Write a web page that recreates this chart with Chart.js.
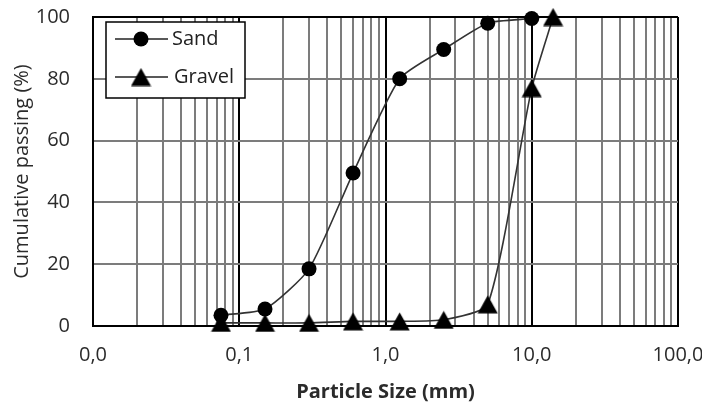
<!DOCTYPE html>
<html>
<head>
<meta charset="utf-8">
<script src="https://cdn.jsdelivr.net/npm/chart.js@4"></script>
<style>
    html, body { margin: 0; padding: 0; background: #fff; }
    #wrap { width: 702px; height: 405px; position: relative; }
</style>
</head>
<body>
<div id="wrap"><canvas id="gradingChart"></canvas></div>
<script>
// sieve sizes (mm) and cumulative passing (%)
const sandSizes = [0.075, 0.15, 0.3, 0.6, 1.25, 2.5, 5, 10];
const sandPassing = [3.5, 5.5, 18.5, 49.5, 80, 89.5, 98, 99.5];
const gravelSizes = [0.075, 0.15, 0.3, 0.6, 1.25, 2.5, 5, 10, 14];
const gravelPassing = [1, 1, 1, 1.5, 1.5, 2, 7, 77, 100];

const seriesNames = ['Sand', 'Gravel'];
const decades = [0.01, 0.1, 1, 10, 100];
const yTicks = [0, 20, 40, 60, 80, 100];

const FONT = "'Open Sans', sans-serif";
const NO_TICK = 'rgba(0,0,0,0)';
const MINOR = '#7c7c7c';

// excel style triangle marker, centred on its bounding box
const makeTriangle = () => {
    const c = document.createElement('canvas');
    c.width = 21;
    c.height = 19;
    const g = c.getContext('2d');
    g.fillStyle = '#000';
    g.beginPath();
    g.moveTo(10.5, 0.5);
    g.lineTo(20.5, 18.5);
    g.lineTo(0.5, 18.5);
    g.closePath();
    g.fill();
    return c;
};
const triangle = makeTriangle();

const isDecade = (v) => decades.some(d => Math.abs(v - d) < d * 1e-6);

const toPoints = (xs, ys) => xs.map((x, i) => ({ x, y: ys[i] }));

// legend box drawn inside the plot, top left
const boxLegend = {
    id: 'boxLegend',
    afterDraw(chart) {
        const ctx = chart.ctx;
        const x0 = 106, y0 = 22, w = 139, h = 76;
        ctx.save();
        ctx.fillStyle = '#fff';
        ctx.fillRect(x0, y0, w, h);
        ctx.strokeStyle = '#000';
        ctx.lineWidth = 1.5;
        ctx.strokeRect(x0, y0, w, h);
        const rows = [39, 77];
        rows.forEach((ry, i) => {
            ctx.strokeStyle = '#222';
            ctx.lineWidth = 1.5;
            ctx.beginPath();
            ctx.moveTo(115, ry);
            ctx.lineTo(168, ry);
            ctx.stroke();
            if (i === 0) {
                ctx.fillStyle = '#000';
                ctx.beginPath();
                ctx.arc(141, ry, 7.5, 0, Math.PI * 2);
                ctx.fill();
            } else {
                ctx.drawImage(triangle, 141 - triangle.width / 2, ry - triangle.height / 2);
            }
            ctx.fillStyle = '#222';
            ctx.font = '20px ' + FONT;
            ctx.textBaseline = 'middle';
            ctx.textAlign = 'left';
            ctx.fillText(seriesNames[i], i === 0 ? 172 : 174, ry);
        });
        ctx.restore();
    }
};

const ctx = document.getElementById('gradingChart').getContext('2d');
new Chart(ctx, {
    type: 'line',
    data: {
        datasets: [
            {
                label: seriesNames[0],
                data: toPoints(sandSizes, sandPassing),
                borderColor: '#333',
                borderWidth: 1.6,
                pointStyle: 'circle',
                pointRadius: 7.5,
                pointBackgroundColor: '#000',
                pointBorderColor: '#000',
                pointBorderWidth: 0,
                tension: 0.2,
                clip: false
            },
            {
                label: seriesNames[1],
                data: toPoints(gravelSizes, gravelPassing),
                borderColor: '#333',
                borderWidth: 1.6,
                pointStyle: triangle,
                pointRadius: 10,
                tension: 0.2,
                clip: false
            }
        ]
    },
    options: {
        responsive: true,
        maintainAspectRatio: false,
        animation: false,
        events: [],
        layout: { padding: { left: 0, right: 24, top: 17, bottom: 0 }, autoPadding: false },
        plugins: {
            legend: { display: false },
            tooltip: { enabled: false }
        },
        scales: {
            x: {
                type: 'logarithmic',
                min: 0.01,
                max: 100,
                afterBuildTicks: (scale) => {
                    const vals = [];
                    decades.slice(0, -1).forEach(d => {
                        for (let k = 1; k <= 9; k++) vals.push(+(d * k).toPrecision(6));
                    });
                    vals.push(100);
                    scale.ticks = vals.map(v => ({ value: v }));
                },
                afterFit: (scale) => { scale.height = 79; },
                grid: {
                    tickLength: 19,
                    tickColor: NO_TICK,
                    color: (c) => c.tick && isDecade(c.tick.value) ? '#000' : MINOR,
                    lineWidth: 2
                },
                border: { display: true, color: '#000', width: 2 },
                ticks: {
                    autoSkip: false,
                    maxRotation: 0,
                    padding: -2,
                    color: '#2b2b2b',
                    font: { family: FONT, size: 20 },
                    callback: (v) => isDecade(v) ? v.toFixed(1).replace('.', ',') : ''
                },
                title: {
                    display: true,
                    text: 'Particle Size (mm)',
                    color: '#2b2b2b',
                    font: { family: FONT, size: 20, weight: 'bold' },
                    padding: { top: 0, bottom: 1 }
                }
            },
            y: {
                min: 0,
                max: 100,
                afterBuildTicks: (scale) => { scale.ticks = yTicks.map(v => ({ value: v })); },
                afterFit: (scale) => { scale.width = 93; },
                grid: {
                    tickLength: 23,
                    tickColor: NO_TICK,
                    color: (c) => c.tick && c.tick.value === 100 ? '#000' : MINOR,
                    lineWidth: 2
                },
                border: { display: true, color: '#000', width: 2 },
                ticks: {
                    padding: 0,
                    color: '#2b2b2b',
                    font: { family: FONT, size: 20 }
                },
                title: {
                    display: true,
                    text: 'Cumulative passing (%)',
                    color: '#2b2b2b',
                    font: { family: FONT, size: 20 },
                    padding: { top: 10, bottom: 0 }
                }
            }
        }
    },
    plugins: [boxLegend]
});
</script>
</body>
</html>
